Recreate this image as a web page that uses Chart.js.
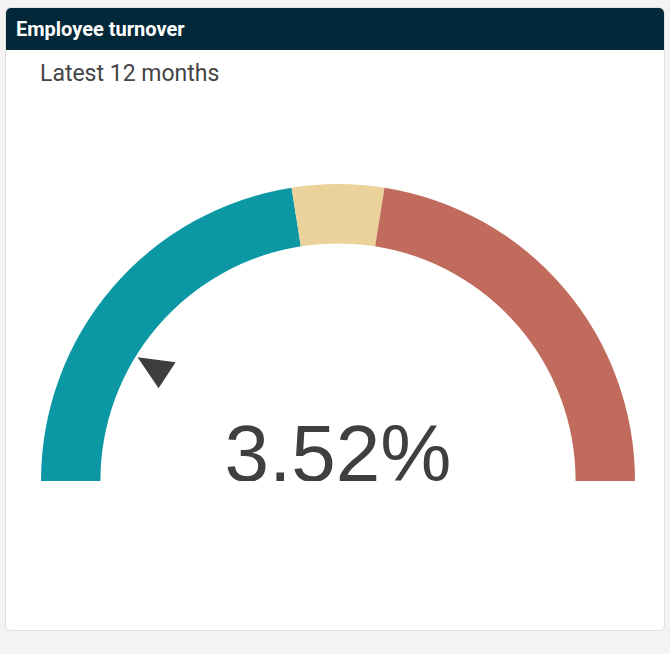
<!DOCTYPE html>
<html>
<head>
<meta charset="utf-8">
<script src="https://cdn.jsdelivr.net/npm/chart.js@4"></script>
<style>
  html, body { margin: 0; padding: 0; background: #f3f3f3; }
  body { width: 670px; height: 654px; position: relative; overflow: hidden; font-family: Roboto, 'Noto Sans', sans-serif; }
  .card {
    position: absolute; left: 5px; top: 7px; width: 658px; height: 622px;
    background: #fff; border: 1px solid #e2e2e2; border-radius: 6px; overflow: hidden;
  }
  .card-header {
    height: 42px; background: #03283a; color: #fff;
    font-weight: 700; font-size: 20px; line-height: 43px; padding-left: 10px;
  }
  .subtitle { position: absolute; left: 34px; top: 52px; font-size: 23px; color: #454545; }
  #gauge { position: absolute; left: 35px; top: 176px; }
</style>
</head>
<body>
<div class="card">
  <div class="card-header">Employee turnover</div>
  <div class="subtitle">Latest 12 months</div>
  <canvas id="gauge" width="594" height="297"></canvas>
</div>
<script>
  // gauge bands (percent), scale runs 0 – 20
  const bandLabels = ['Low', 'Medium', 'High'];
  const bandSizes  = [9, 2, 9];
  const bandColors = ['#0b97a4', '#ebd29b', '#c16b5d'];
  const gaugeMax   = 20;
  const turnover   = 3.52;

  const gaugeExtras = {
    id: 'gaugeExtras',
    afterDatasetsDraw(chart) {
      const arc = chart.getDatasetMeta(0).data[0];
      if (!arc) return;
      const { x, y, innerRadius } = arc.getProps(['x', 'y', 'innerRadius'], true);
      const ctx = chart.ctx;

      // pointer
      const ang = Math.PI + Math.PI * (turnover / gaugeMax);
      const r = innerRadius - 25;
      const px = x + Math.cos(ang) * r;
      const py = y + Math.sin(ang) * r;
      ctx.save();
      ctx.fillStyle = '#3d3d3d';
      ctx.beginPath();
      ctx.moveTo(px - 19.5, py - 12);
      ctx.lineTo(px + 18.5, py - 7);
      ctx.lineTo(px + 1.5, py + 19);
      ctx.closePath();
      ctx.fill();

      // value, decimal comma
      const label = turnover.toFixed(2).split('.').join(',') + '%';
      ctx.fillStyle = '#3f3f3f';
      ctx.font = '80px "Liberation Sans", Arial, sans-serif';
      ctx.textAlign = 'center';
      ctx.textBaseline = 'alphabetic';
      ctx.fillText(label, x, y);
      ctx.restore();
    }
  };

  new Chart(document.getElementById('gauge'), {
    type: 'doughnut',
    data: {
      labels: bandLabels,
      datasets: [{
        data: bandSizes,
        backgroundColor: bandColors,
        borderWidth: 0,
      }],
    },
    options: {
      responsive: false,
      animation: false,
      rotation: -90,
      circumference: 180,
      cutout: '80%',
      layout: { padding: 0 },
      plugins: {
        legend: { display: false },
        tooltip: { enabled: false },
      },
    },
    plugins: [gaugeExtras],
  });
</script>
</body>
</html>
